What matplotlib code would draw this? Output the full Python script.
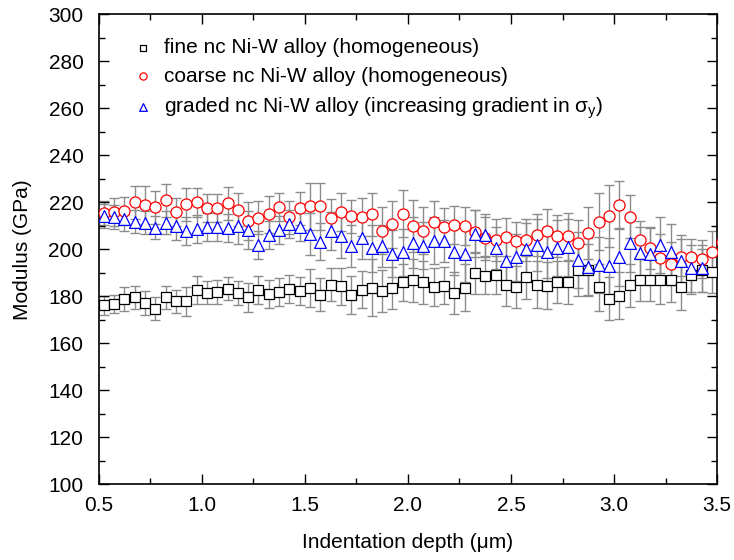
import numpy as np
import matplotlib
matplotlib.use('Agg')
from matplotlib import pyplot as plt
from matplotlib.ticker import MultipleLocator

plt.rcParams['font.family'] = ['Liberation Sans', 'DejaVu Sans']
plt.rcParams['mathtext.default'] = 'regular'

# indentation depth (um), one value per indent step
depth = [0.525, 0.575, 0.625, 0.675, 0.725, 0.775, 0.825, 0.875, 0.925, 0.975,
         1.025, 1.075, 1.125, 1.175, 1.225, 1.275, 1.325, 1.375, 1.425, 1.475,
         1.525, 1.575, 1.625, 1.675, 1.725, 1.775, 1.825, 1.875, 1.925, 1.975,
         2.025, 2.075, 2.125, 2.175, 2.225, 2.275, 2.325, 2.375, 2.425, 2.475,
         2.525, 2.575, 2.625, 2.675, 2.725, 2.775, 2.825, 2.875, 2.925, 2.975,
         3.025, 3.075, 3.125, 3.175, 3.225, 3.275, 3.325, 3.375, 3.425, 3.475,
         3.522]

# fine nc Ni-W (homogeneous)
fine = [176.1, 176.7, 178.9, 179.5, 177.1, 174.7, 179.5, 177.8, 177.8, 182.8,
        181.5, 181.8, 183.2, 181.3, 179.5, 182.8, 181.1, 181.9, 183.0, 182.1,
        183.4, 180.6, 184.9, 184.2, 180.6, 182.8, 183.7, 182.3, 183.4, 185.9,
        186.7, 185.9, 183.9, 184.5, 181.3, 183.7, 189.8, 188.8, 189.1, 184.9,
        183.9, 188.0, 184.9, 184.5, 186.0, 185.9, 191.2, 191.2, 183.9, 179.0,
        180.2, 184.6, 187.0, 187.1, 186.7, 186.7, 184.1, 189.1, 191.0, 190.5,
        np.nan]
fine_err = [4, 4, 5, 5, 5, 5, 5, 5, 6, 6,
            5, 5, 5, 5, 6, 6, 6, 6, 6, 6,
            8, 7, 7, 8, 8, 8, 12, 9, 9, 8,
            9, 9, 8, 8, 9, 10, 9, 8, 8, 9,
            9, 9, 10, 10, 9, 9, 11, 11, 10, 9,
            10, 9, 9, 9, 10, 9, 10, 8, 9, 9,
            np.nan]

# coarse nc Ni-W (homogeneous)
coarse = [215.5, 215.9, 216.2, 219.9, 218.8, 217.9, 220.9, 215.9, 219.2, 219.9,
          217.5, 217.4, 219.5, 216.7, 212.1, 213.4, 214.8, 217.9, 213.5, 217.4,
          218.3, 218.3, 213.4, 215.7, 214.1, 213.8, 214.8, 207.9, 210.7, 215.0,
          209.9, 207.9, 211.7, 209.6, 210.3, 209.9, 207.5, 204.6, 203.9, 205.1,
          203.6, 203.9, 206.1, 207.9, 205.6, 205.6, 202.5, 206.8, 211.7, 214.1,
          219.0, 213.9, 204.0, 200.4, 196.3, 193.9, 196.5, 196.5, 195.8, 198.7,
          203.2]
coarse_err = [5, 6, 6, 7, 8, 7, 7, 6, 7, 6,
              6, 6, 7, 7, 8, 7, 8, 6, 7, 7,
              10, 10, 8, 8, 7, 8, 9, 10, 10, 10,
              11, 10, 9, 8, 8, 8, 9, 9, 9, 8,
              8, 9, 9, 9, 9, 10, 10, 11, 12, 13,
              10, 9, 8, 9, 10, 9, 8, 8, 8, 9,
              9]

# graded nc Ni-W
graded = [214.1, 213.8, 212.7, 211.7, 211.3, 209.2, 211.3, 209.9, 207.9, 208.6,
          209.3, 209.3, 208.9, 210.0, 208.2, 201.8, 205.9, 208.2, 210.6, 209.5,
          206.5, 203.2, 207.7, 205.4, 201.5, 204.9, 200.4, 201.5, 198.0, 198.6,
          202.8, 201.5, 203.5, 203.5, 199.0, 198.0, 206.5, 206.1, 200.4, 195.0,
          196.5, 200.0, 201.8, 198.6, 200.4, 200.8, 195.5, 192.6, 193.3, 192.9,
          196.5, 202.5, 198.3, 197.9, 201.8, 198.7, 195.1, 191.9, 191.9, np.nan,
          np.nan]
graded_err = [5, 5, 5, 5, 5, 5, 5, 6, 6, 6,
              6, 6, 6, 8, 8, 6, 6, 6, 6, 6,
              9, 8, 8, 9, 9, 9, 10, 9, 10, 10,
              11, 10, 10, 9, 10, 12, 10, 9, 9, 10,
              10, 11, 11, 11, 12, 12, 12, 12, 12, 12,
              12, 12, 11, 11, 12, 12, 11, 10, 10, np.nan,
              np.nan]

SERIES = [
    (fine, fine_err, 's', 'black', 7.0, 'fine nc Ni-W alloy (homogeneous)'),
    (coarse, coarse_err, 'o', 'red', 8.0, 'coarse nc Ni-W alloy (homogeneous)'),
    (graded, graded_err, '^', 'blue', 8.5, r'graded nc Ni-W alloy (increasing gradient in $\sigma_y$)'),
]


def main():
    fig = plt.figure(figsize=(7.34, 5.6), dpi=100)
    ax = fig.add_axes([0.1345, 0.135, 0.8425, 0.84])

    x = np.array(depth)

    # error bars first, markers on top
    for vals, errs, _, _, _, _ in SERIES:
        ax.errorbar(x, vals, yerr=errs, fmt='none', ecolor='#8c8c8c',
                    elinewidth=1.0, capsize=3.5, capthick=1.0, zorder=1)

    # scatter so the marker sitting just past the right edge still shows clipped
    handles = []
    for vals, _, marker, color, ms, label in SERIES:
        h = ax.scatter(x, vals, marker=marker, s=ms ** 2, facecolors='white',
                       edgecolors=color, linewidths=0.9, label=label, zorder=3)
        handles.append(h)

    ax.set_xlim(0.5, 3.5)
    ax.set_ylim(100, 300)
    ax.xaxis.set_major_locator(MultipleLocator(0.5))
    ax.xaxis.set_minor_locator(MultipleLocator(0.25))
    ax.yaxis.set_major_locator(MultipleLocator(20))
    ax.yaxis.set_minor_locator(MultipleLocator(10))
    ax.xaxis.set_major_formatter(plt.FormatStrFormatter('%.1f'))

    ax.tick_params(which='both', direction='in', top=True, right=True,
                   labelsize=15, width=1.0)
    ax.tick_params(axis='x', which='major', pad=8)
    ax.tick_params(axis='y', which='major', pad=11)
    ax.tick_params(which='major', length=7)
    ax.tick_params(which='minor', length=4)
    for sp in ax.spines.values():
        sp.set_linewidth(1.2)

    ax.set_xlabel('Indentation depth (\u03bcm)', fontsize=15, labelpad=13)
    ax.set_ylabel('Modulus (GPa)', fontsize=15, labelpad=12)

    ax.legend(handles=handles, loc='upper left', bbox_to_anchor=(0.035, 0.975),
              frameon=False, fontsize=15, markerscale=0.65, handlelength=1.0,
              handletextpad=0.5, labelspacing=0.45, borderaxespad=0.2,
              scatterpoints=1)

    fig.savefig('out.png', dpi=100)


if __name__ == '__main__':
    main()
